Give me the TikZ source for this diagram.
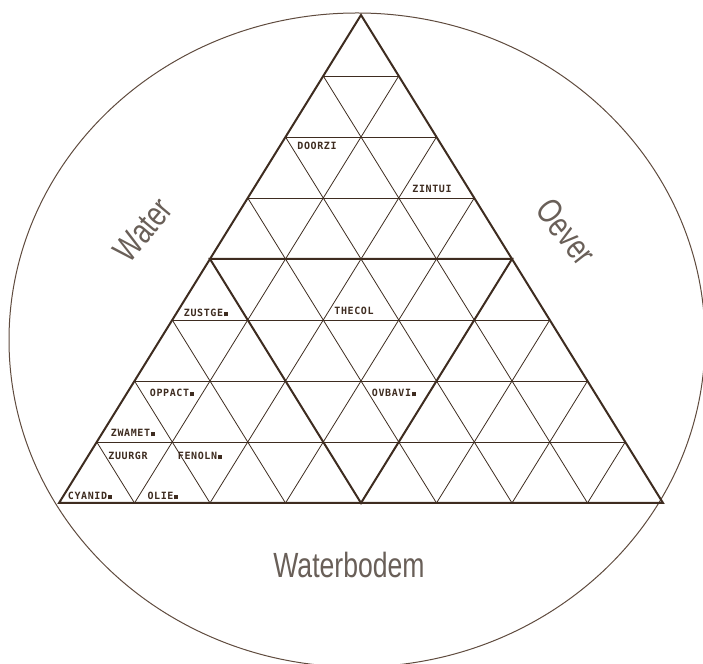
\documentclass[tikz,border=0pt]{standalone}
\usepackage{fontspec}
\setmainfont{Liberation Sans}
\newfontfamily\plotfont[FakeStretch=0.76]{Liberation Sans}
\newfontfamily\codefont[LetterSpace=6]{DejaVu Sans Mono}
\usetikzlibrary{positioning}
\definecolor{inkbrown} {RGB}{ 62,  44,  32}
\definecolor{rimbrown} {RGB}{ 95,  75,  62}
\definecolor{labelgray}{RGB}{105,  95,  88}
\newcommand{\blk}{\hspace{1pt}\rule[0.3pt]{4pt}{4pt}}

\begin{document}
\begin{tikzpicture}[x=1pt,y=1pt,
  every node/.style={inner sep=0pt},
  grid/.style={draw=inkbrown,line width=0.8pt},
  frame/.style={draw=inkbrown,line width=2pt,line join=miter},
  zone/.style={font=\plotfont\fontsize{35}{35}\selectfont,text=labelgray},
  param/.style={font=\codefont\bfseries\fontsize{10}{10}\selectfont,text=inkbrown},
]
\useasboundingbox (0,0) rectangle (703,663);

%% ── Outer circle ────────────────────────────────────────────────────────
\draw[rimbrown,line width=1pt] (357,323) ellipse [x radius=348,y radius=327];

%% ── Triangle grid (8 rows) ──────────────────────────────────────────────
\begin{scope}[shift={(59,160)},x={(75.5pt,0pt)},y={(37.75pt,61pt)}]
\foreach \k in {1,...,7}{
  \draw[grid] (0,\k) -- ({8-\k},\k);
  \draw[grid] (\k,0) -- (\k,{8-\k});
  \draw[grid] (\k,0) -- (0,\k);
}
\draw[frame] (0,0) -- (8,0) -- (0,8) -- cycle;
\draw[frame] (0,4) -- (4,4) -- (4,0) -- cycle;
\end{scope}

%% ── Compartments ────────────────────────────────────────────────────────
\node[zone,rotate=50]  (water) at (143,433) {Water};
\node[zone,rotate=-52] (oever) at (566,431) {Oever};
\node[zone]            (bodem) at (349,98)  {Waterbodem};

%% ── Parameters ──────────────────────────────────────────────────────────
\node[param] (doorzi) at (317,517) {DOORZI};
\node[param] (zintui) at (432,474) {ZINTUI};
\node[param] (zustge) at (206,350) {ZUSTGE\blk};
\node[param] (thecol) at (354,352) {THECOL};
\node[param] (oppact) at (172,270) {OPPACT\blk};
\node[param] (ovbavi) at (394,270) {OVBAVI\blk};
\node[param] (zwamet) at (133,230) {ZWAMET\blk};
\node[param] (zuurgr) at (128,207) {ZUURGR};
\node[param] (fenoln) at (200,207) {FENOLN\blk};
\node[param] (cyanid) at (90,167)  {CYANID\blk};
\node[param] (olie)   at (163,167) {OLIE\blk};

\end{tikzpicture}
\end{document}
